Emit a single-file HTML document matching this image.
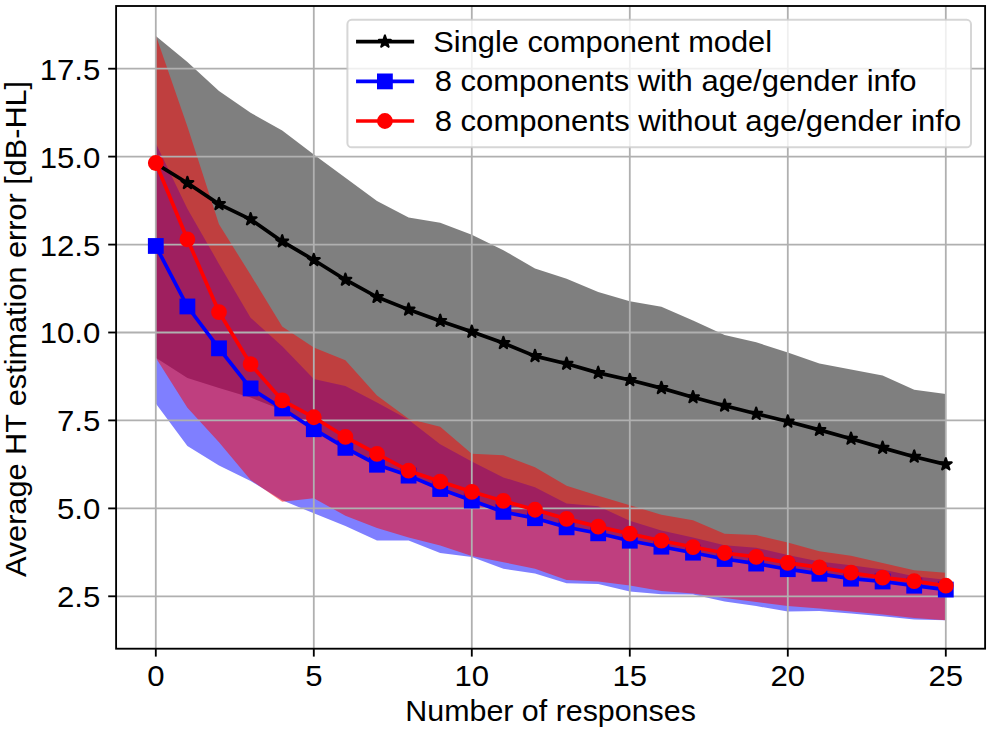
<!DOCTYPE html>
<html><head><meta charset="utf-8"><title>chart</title>
<style>
html,body{margin:0;padding:0;background:#fff;}
body{width:992px;height:732px;overflow:hidden;}
svg{display:block;}
text{font-family:"Liberation Sans",sans-serif;font-size:29.4px;fill:#000;}
</style></head><body>
<svg width="992" height="732" viewBox="0 0 992 732">
<rect x="0" y="0" width="992" height="732" fill="#fff"/>
<polygon points="155.8,36.0 187.4,62.0 219.0,90.9 250.6,112.7 282.2,130.6 313.8,154.5 345.4,177.8 377.0,201.0 408.6,217.5 440.2,222.8 471.8,234.7 503.4,250.2 535.0,268.5 566.6,278.7 598.2,292.1 629.8,301.2 661.4,306.8 693.0,320.5 724.6,335.0 756.2,342.3 787.8,352.5 819.4,363.4 851.0,369.4 882.6,375.4 914.2,389.8 945.8,394.0 945.8,589.6 914.2,585.7 882.6,581.5 851.0,578.7 819.4,573.8 787.8,569.2 756.2,563.6 724.6,559.0 693.0,552.7 661.4,546.7 629.8,540.7 598.2,533.3 566.6,527.3 535.0,518.2 503.4,511.9 471.8,500.6 440.2,489.0 408.6,475.6 377.0,464.7 345.4,447.9 313.8,429.2 282.2,409.9 250.6,397.6 219.0,388.1 187.4,377.9 155.8,357.8" fill="#000" fill-opacity="0.5"/>
<polygon points="155.8,143.3 187.4,208.7 219.0,263.9 250.6,317.7 282.2,346.2 313.8,378.9 345.4,386.0 377.0,402.5 408.6,419.7 440.2,444.3 471.8,461.6 503.4,477.4 535.0,487.2 566.6,503.4 598.2,506.2 629.8,520.7 661.4,530.5 693.0,537.5 724.6,545.3 756.2,547.7 787.8,555.1 819.4,561.5 851.0,565.3 882.6,569.5 914.2,576.2 945.8,579.7 945.8,620.2 914.2,619.5 882.6,616.3 851.0,613.5 819.4,611.0 787.8,611.4 756.2,606.1 724.6,601.6 693.0,594.5 661.4,594.2 629.8,591.4 598.2,584.0 566.6,583.3 535.0,573.4 503.4,568.8 471.8,556.9 440.2,553.0 408.6,540.4 377.0,540.4 345.4,525.9 313.8,513.3 282.2,500.3 250.6,480.9 219.0,465.4 187.4,446.1 155.8,403.5" fill="#00f" fill-opacity="0.5"/>
<polygon points="155.8,35.3 187.4,126.4 219.0,224.2 250.6,274.8 282.2,326.5 313.8,347.6 345.4,360.3 377.0,395.5 408.6,418.7 440.2,426.8 471.8,453.8 503.4,455.2 535.0,467.2 566.6,485.8 598.2,495.7 629.8,505.2 661.4,514.7 693.0,520.3 724.6,533.7 756.2,535.1 787.8,542.5 819.4,551.3 851.0,555.8 882.6,562.9 914.2,570.2 945.8,572.7 945.8,620.2 914.2,618.1 882.6,614.6 851.0,611.4 819.4,608.6 787.8,606.1 756.2,601.9 724.6,598.0 693.0,593.5 661.4,591.0 629.8,585.4 598.2,581.5 566.6,580.1 535.0,568.8 503.4,562.2 471.8,556.0 440.2,545.6 408.6,537.5 377.0,528.0 345.4,515.7 313.8,498.2 282.2,501.7 250.6,479.9 219.0,442.2 187.4,407.8 155.8,357.8" fill="#f00" fill-opacity="0.5"/>
<line x1="155.8" y1="6.0" x2="155.8" y2="648.7" stroke="#b0b0b0" stroke-width="1.8"/>
<line x1="313.8" y1="6.0" x2="313.8" y2="648.7" stroke="#b0b0b0" stroke-width="1.8"/>
<line x1="471.8" y1="6.0" x2="471.8" y2="648.7" stroke="#b0b0b0" stroke-width="1.8"/>
<line x1="629.8" y1="6.0" x2="629.8" y2="648.7" stroke="#b0b0b0" stroke-width="1.8"/>
<line x1="787.8" y1="6.0" x2="787.8" y2="648.7" stroke="#b0b0b0" stroke-width="1.8"/>
<line x1="945.8" y1="6.0" x2="945.8" y2="648.7" stroke="#b0b0b0" stroke-width="1.8"/>
<line x1="116.1" y1="596.3" x2="985.1" y2="596.3" stroke="#b0b0b0" stroke-width="1.8"/>
<line x1="116.1" y1="508.4" x2="985.1" y2="508.4" stroke="#b0b0b0" stroke-width="1.8"/>
<line x1="116.1" y1="420.4" x2="985.1" y2="420.4" stroke="#b0b0b0" stroke-width="1.8"/>
<line x1="116.1" y1="332.5" x2="985.1" y2="332.5" stroke="#b0b0b0" stroke-width="1.8"/>
<line x1="116.1" y1="244.6" x2="985.1" y2="244.6" stroke="#b0b0b0" stroke-width="1.8"/>
<line x1="116.1" y1="156.6" x2="985.1" y2="156.6" stroke="#b0b0b0" stroke-width="1.8"/>
<line x1="116.1" y1="68.7" x2="985.1" y2="68.7" stroke="#b0b0b0" stroke-width="1.8"/>
<polyline points="155.8,163.7 187.4,183.0 219.0,204.1 250.6,219.3 282.2,241.4 313.8,260.0 345.4,279.7 377.0,297.0 408.6,309.6 440.2,320.9 471.8,331.8 503.4,343.1 535.0,356.1 566.6,363.8 598.2,372.9 629.8,380.0 661.4,388.1 693.0,397.2 724.6,405.7 756.2,413.7 787.8,421.5 819.4,429.9 851.0,438.7 882.6,447.9 914.2,456.7 945.8,464.4" fill="none" stroke="#000" stroke-width="3.7" stroke-linejoin="round" stroke-linecap="square"/>
<path d="M155.80,157.48 L154.41,161.77 L149.90,161.77 L153.55,164.42 L152.16,168.70 L155.80,166.05 L159.44,168.70 L158.05,164.42 L161.70,161.77 L157.19,161.77 Z" fill="#000" stroke="#000" stroke-width="2.2" stroke-linejoin="round"/>
<path d="M187.40,176.83 L186.01,181.11 L181.50,181.11 L185.15,183.76 L183.76,188.04 L187.40,185.40 L191.04,188.04 L189.65,183.76 L193.30,181.11 L188.79,181.11 Z" fill="#000" stroke="#000" stroke-width="2.2" stroke-linejoin="round"/>
<path d="M219.00,197.93 L217.61,202.21 L213.10,202.21 L216.75,204.86 L215.36,209.15 L219.00,206.50 L222.64,209.15 L221.25,204.86 L224.90,202.21 L220.39,202.21 Z" fill="#000" stroke="#000" stroke-width="2.2" stroke-linejoin="round"/>
<path d="M250.60,213.05 L249.21,217.34 L244.70,217.34 L248.35,219.98 L246.96,224.27 L250.60,221.62 L254.24,224.27 L252.85,219.98 L256.50,217.34 L251.99,217.34 Z" fill="#000" stroke="#000" stroke-width="2.2" stroke-linejoin="round"/>
<path d="M282.20,235.21 L280.81,239.49 L276.30,239.49 L279.95,242.14 L278.56,246.43 L282.20,243.78 L285.84,246.43 L284.45,242.14 L288.10,239.49 L283.59,239.49 Z" fill="#000" stroke="#000" stroke-width="2.2" stroke-linejoin="round"/>
<path d="M313.80,253.85 L312.41,258.13 L307.90,258.13 L311.55,260.78 L310.16,265.07 L313.80,262.42 L317.44,265.07 L316.05,260.78 L319.70,258.13 L315.19,258.13 Z" fill="#000" stroke="#000" stroke-width="2.2" stroke-linejoin="round"/>
<path d="M345.40,273.55 L344.01,277.83 L339.50,277.83 L343.15,280.48 L341.76,284.76 L345.40,282.11 L349.04,284.76 L347.65,280.48 L351.30,277.83 L346.79,277.83 Z" fill="#000" stroke="#000" stroke-width="2.2" stroke-linejoin="round"/>
<path d="M377.00,290.78 L375.61,295.06 L371.10,295.06 L374.75,297.71 L373.36,301.99 L377.00,299.35 L380.64,301.99 L379.25,297.71 L382.90,295.06 L378.39,295.06 Z" fill="#000" stroke="#000" stroke-width="2.2" stroke-linejoin="round"/>
<path d="M408.60,303.44 L407.21,307.72 L402.70,307.72 L406.35,310.37 L404.96,314.66 L408.60,312.01 L412.24,314.66 L410.85,310.37 L414.50,307.72 L409.99,307.72 Z" fill="#000" stroke="#000" stroke-width="2.2" stroke-linejoin="round"/>
<path d="M440.20,314.69 L438.81,318.98 L434.30,318.98 L437.95,321.63 L436.56,325.91 L440.20,323.26 L443.84,325.91 L442.45,321.63 L446.10,318.98 L441.59,318.98 Z" fill="#000" stroke="#000" stroke-width="2.2" stroke-linejoin="round"/>
<path d="M471.80,325.60 L470.41,329.88 L465.90,329.88 L469.55,332.53 L468.16,336.81 L471.80,334.16 L475.44,336.81 L474.05,332.53 L477.70,329.88 L473.19,329.88 Z" fill="#000" stroke="#000" stroke-width="2.2" stroke-linejoin="round"/>
<path d="M503.40,336.85 L502.01,341.14 L497.50,341.14 L501.15,343.78 L499.76,348.07 L503.40,345.42 L507.04,348.07 L505.65,343.78 L509.30,341.14 L504.79,341.14 Z" fill="#000" stroke="#000" stroke-width="2.2" stroke-linejoin="round"/>
<path d="M535.00,349.86 L533.61,354.15 L529.10,354.15 L532.75,356.80 L531.36,361.08 L535.00,358.43 L538.64,361.08 L537.25,356.80 L540.90,354.15 L536.39,354.15 Z" fill="#000" stroke="#000" stroke-width="2.2" stroke-linejoin="round"/>
<path d="M566.60,357.60 L565.21,361.89 L560.70,361.89 L564.35,364.53 L562.96,368.82 L566.60,366.17 L570.24,368.82 L568.85,364.53 L572.50,361.89 L567.99,361.89 Z" fill="#000" stroke="#000" stroke-width="2.2" stroke-linejoin="round"/>
<path d="M598.20,366.75 L596.81,371.03 L592.30,371.03 L595.95,373.68 L594.56,377.96 L598.20,375.31 L601.84,377.96 L600.45,373.68 L604.10,371.03 L599.59,371.03 Z" fill="#000" stroke="#000" stroke-width="2.2" stroke-linejoin="round"/>
<path d="M629.80,373.78 L628.41,378.06 L623.90,378.06 L627.55,380.71 L626.16,385.00 L629.80,382.35 L633.44,385.00 L632.05,380.71 L635.70,378.06 L631.19,378.06 Z" fill="#000" stroke="#000" stroke-width="2.2" stroke-linejoin="round"/>
<path d="M661.40,381.87 L660.01,386.15 L655.50,386.15 L659.15,388.80 L657.76,393.08 L661.40,390.44 L665.04,393.08 L663.65,388.80 L667.30,386.15 L662.79,386.15 Z" fill="#000" stroke="#000" stroke-width="2.2" stroke-linejoin="round"/>
<path d="M693.00,391.01 L691.61,395.30 L687.10,395.30 L690.75,397.94 L689.36,402.23 L693.00,399.58 L696.64,402.23 L695.25,397.94 L698.90,395.30 L694.39,395.30 Z" fill="#000" stroke="#000" stroke-width="2.2" stroke-linejoin="round"/>
<path d="M724.60,399.45 L723.21,403.74 L718.70,403.74 L722.35,406.39 L720.96,410.67 L724.60,408.02 L728.24,410.67 L726.85,406.39 L730.50,403.74 L725.99,403.74 Z" fill="#000" stroke="#000" stroke-width="2.2" stroke-linejoin="round"/>
<path d="M756.20,407.54 L754.81,411.83 L750.30,411.83 L753.95,414.47 L752.56,418.76 L756.20,416.11 L759.84,418.76 L758.45,414.47 L762.10,411.83 L757.59,411.83 Z" fill="#000" stroke="#000" stroke-width="2.2" stroke-linejoin="round"/>
<path d="M787.80,415.28 L786.41,419.56 L781.90,419.56 L785.55,422.21 L784.16,426.50 L787.80,423.85 L791.44,426.50 L790.05,422.21 L793.70,419.56 L789.19,419.56 Z" fill="#000" stroke="#000" stroke-width="2.2" stroke-linejoin="round"/>
<path d="M819.40,423.72 L818.01,428.00 L813.50,428.00 L817.15,430.65 L815.76,434.94 L819.40,432.29 L823.04,434.94 L821.65,430.65 L825.30,428.00 L820.79,428.00 Z" fill="#000" stroke="#000" stroke-width="2.2" stroke-linejoin="round"/>
<path d="M851.00,432.51 L849.61,436.80 L845.10,436.80 L848.75,439.45 L847.36,443.73 L851.00,441.08 L854.64,443.73 L853.25,439.45 L856.90,436.80 L852.39,436.80 Z" fill="#000" stroke="#000" stroke-width="2.2" stroke-linejoin="round"/>
<path d="M882.60,441.66 L881.21,445.94 L876.70,445.94 L880.35,448.59 L878.96,452.87 L882.60,450.23 L886.24,452.87 L884.85,448.59 L888.50,445.94 L883.99,445.94 Z" fill="#000" stroke="#000" stroke-width="2.2" stroke-linejoin="round"/>
<path d="M914.20,450.45 L912.81,454.73 L908.30,454.73 L911.95,457.38 L910.56,461.67 L914.20,459.02 L917.84,461.67 L916.45,457.38 L920.10,454.73 L915.59,454.73 Z" fill="#000" stroke="#000" stroke-width="2.2" stroke-linejoin="round"/>
<path d="M945.80,458.19 L944.41,462.47 L939.90,462.47 L943.55,465.12 L942.16,469.40 L945.80,466.76 L949.44,469.40 L948.05,465.12 L951.70,462.47 L947.19,462.47 Z" fill="#000" stroke="#000" stroke-width="2.2" stroke-linejoin="round"/>
<polyline points="155.8,246.0 187.4,306.5 219.0,348.3 250.6,388.4 282.2,408.5 313.8,429.2 345.4,447.9 377.0,464.7 408.6,475.6 440.2,489.0 471.8,500.6 503.4,511.9 535.0,518.2 566.6,527.3 598.2,533.3 629.8,540.7 661.4,546.7 693.0,552.7 724.6,559.0 756.2,563.6 787.8,569.2 819.4,573.8 851.0,578.7 882.6,581.5 914.2,585.7 945.8,589.6" fill="none" stroke="#00f" stroke-width="3.7" stroke-linejoin="round" stroke-linecap="square"/>
<rect x="149.00" y="239.18" width="13.6" height="13.6" fill="#00f" stroke="#00f" stroke-width="2.2"/>
<rect x="180.60" y="299.67" width="13.6" height="13.6" fill="#00f" stroke="#00f" stroke-width="2.2"/>
<rect x="212.20" y="341.53" width="13.6" height="13.6" fill="#00f" stroke="#00f" stroke-width="2.2"/>
<rect x="243.80" y="381.62" width="13.6" height="13.6" fill="#00f" stroke="#00f" stroke-width="2.2"/>
<rect x="275.40" y="401.67" width="13.6" height="13.6" fill="#00f" stroke="#00f" stroke-width="2.2"/>
<rect x="307.00" y="422.42" width="13.6" height="13.6" fill="#00f" stroke="#00f" stroke-width="2.2"/>
<rect x="338.60" y="441.06" width="13.6" height="13.6" fill="#00f" stroke="#00f" stroke-width="2.2"/>
<rect x="370.20" y="457.94" width="13.6" height="13.6" fill="#00f" stroke="#00f" stroke-width="2.2"/>
<rect x="401.80" y="468.84" width="13.6" height="13.6" fill="#00f" stroke="#00f" stroke-width="2.2"/>
<rect x="433.40" y="482.21" width="13.6" height="13.6" fill="#00f" stroke="#00f" stroke-width="2.2"/>
<rect x="465.00" y="493.81" width="13.6" height="13.6" fill="#00f" stroke="#00f" stroke-width="2.2"/>
<rect x="496.60" y="505.07" width="13.6" height="13.6" fill="#00f" stroke="#00f" stroke-width="2.2"/>
<rect x="528.20" y="511.40" width="13.6" height="13.6" fill="#00f" stroke="#00f" stroke-width="2.2"/>
<rect x="559.80" y="520.54" width="13.6" height="13.6" fill="#00f" stroke="#00f" stroke-width="2.2"/>
<rect x="591.40" y="526.52" width="13.6" height="13.6" fill="#00f" stroke="#00f" stroke-width="2.2"/>
<rect x="623.00" y="533.91" width="13.6" height="13.6" fill="#00f" stroke="#00f" stroke-width="2.2"/>
<rect x="654.60" y="539.89" width="13.6" height="13.6" fill="#00f" stroke="#00f" stroke-width="2.2"/>
<rect x="686.20" y="545.86" width="13.6" height="13.6" fill="#00f" stroke="#00f" stroke-width="2.2"/>
<rect x="717.80" y="552.19" width="13.6" height="13.6" fill="#00f" stroke="#00f" stroke-width="2.2"/>
<rect x="749.40" y="556.77" width="13.6" height="13.6" fill="#00f" stroke="#00f" stroke-width="2.2"/>
<rect x="781.00" y="562.39" width="13.6" height="13.6" fill="#00f" stroke="#00f" stroke-width="2.2"/>
<rect x="812.60" y="566.97" width="13.6" height="13.6" fill="#00f" stroke="#00f" stroke-width="2.2"/>
<rect x="844.20" y="571.89" width="13.6" height="13.6" fill="#00f" stroke="#00f" stroke-width="2.2"/>
<rect x="875.80" y="574.70" width="13.6" height="13.6" fill="#00f" stroke="#00f" stroke-width="2.2"/>
<rect x="907.40" y="578.92" width="13.6" height="13.6" fill="#00f" stroke="#00f" stroke-width="2.2"/>
<rect x="939.00" y="582.79" width="13.6" height="13.6" fill="#00f" stroke="#00f" stroke-width="2.2"/>
<polyline points="155.8,163.0 187.4,239.3 219.0,312.1 250.6,364.2 282.2,400.4 313.8,417.3 345.4,437.0 377.0,453.8 408.6,470.7 440.2,481.6 471.8,491.8 503.4,501.0 535.0,509.8 566.6,518.9 598.2,526.6 629.8,533.7 661.4,540.7 693.0,547.0 724.6,553.0 756.2,556.9 787.8,562.9 819.4,567.4 851.0,572.7 882.6,577.6 914.2,581.2 945.8,585.7" fill="none" stroke="#f00" stroke-width="3.7" stroke-linejoin="round" stroke-linecap="square"/>
<circle cx="155.80" cy="162.98" r="6.8" fill="#f00" stroke="#f00" stroke-width="2.2"/>
<circle cx="187.40" cy="239.30" r="6.8" fill="#f00" stroke="#f00" stroke-width="2.2"/>
<circle cx="219.00" cy="312.10" r="6.8" fill="#f00" stroke="#f00" stroke-width="2.2"/>
<circle cx="250.60" cy="364.15" r="6.8" fill="#f00" stroke="#f00" stroke-width="2.2"/>
<circle cx="282.20" cy="400.38" r="6.8" fill="#f00" stroke="#f00" stroke-width="2.2"/>
<circle cx="313.80" cy="417.26" r="6.8" fill="#f00" stroke="#f00" stroke-width="2.2"/>
<circle cx="345.40" cy="436.95" r="6.8" fill="#f00" stroke="#f00" stroke-width="2.2"/>
<circle cx="377.00" cy="453.84" r="6.8" fill="#f00" stroke="#f00" stroke-width="2.2"/>
<circle cx="408.60" cy="470.72" r="6.8" fill="#f00" stroke="#f00" stroke-width="2.2"/>
<circle cx="440.20" cy="481.62" r="6.8" fill="#f00" stroke="#f00" stroke-width="2.2"/>
<circle cx="471.80" cy="491.82" r="6.8" fill="#f00" stroke="#f00" stroke-width="2.2"/>
<circle cx="503.40" cy="500.96" r="6.8" fill="#f00" stroke="#f00" stroke-width="2.2"/>
<circle cx="535.00" cy="509.76" r="6.8" fill="#f00" stroke="#f00" stroke-width="2.2"/>
<circle cx="566.60" cy="518.90" r="6.8" fill="#f00" stroke="#f00" stroke-width="2.2"/>
<circle cx="598.20" cy="526.64" r="6.8" fill="#f00" stroke="#f00" stroke-width="2.2"/>
<circle cx="629.80" cy="533.67" r="6.8" fill="#f00" stroke="#f00" stroke-width="2.2"/>
<circle cx="661.40" cy="540.71" r="6.8" fill="#f00" stroke="#f00" stroke-width="2.2"/>
<circle cx="693.00" cy="547.04" r="6.8" fill="#f00" stroke="#f00" stroke-width="2.2"/>
<circle cx="724.60" cy="553.02" r="6.8" fill="#f00" stroke="#f00" stroke-width="2.2"/>
<circle cx="756.20" cy="556.88" r="6.8" fill="#f00" stroke="#f00" stroke-width="2.2"/>
<circle cx="787.80" cy="562.86" r="6.8" fill="#f00" stroke="#f00" stroke-width="2.2"/>
<circle cx="819.40" cy="567.44" r="6.8" fill="#f00" stroke="#f00" stroke-width="2.2"/>
<circle cx="851.00" cy="572.71" r="6.8" fill="#f00" stroke="#f00" stroke-width="2.2"/>
<circle cx="882.60" cy="577.63" r="6.8" fill="#f00" stroke="#f00" stroke-width="2.2"/>
<circle cx="914.20" cy="581.15" r="6.8" fill="#f00" stroke="#f00" stroke-width="2.2"/>
<circle cx="945.80" cy="585.72" r="6.8" fill="#f00" stroke="#f00" stroke-width="2.2"/>
<rect x="116.1" y="6.0" width="869.0" height="642.7" fill="none" stroke="#000" stroke-width="1.85" stroke-linejoin="miter"/>
<line x1="155.8" y1="648.7" x2="155.8" y2="656.6" stroke="#000" stroke-width="1.85"/>
<line x1="313.8" y1="648.7" x2="313.8" y2="656.6" stroke="#000" stroke-width="1.85"/>
<line x1="471.8" y1="648.7" x2="471.8" y2="656.6" stroke="#000" stroke-width="1.85"/>
<line x1="629.8" y1="648.7" x2="629.8" y2="656.6" stroke="#000" stroke-width="1.85"/>
<line x1="787.8" y1="648.7" x2="787.8" y2="656.6" stroke="#000" stroke-width="1.85"/>
<line x1="945.8" y1="648.7" x2="945.8" y2="656.6" stroke="#000" stroke-width="1.85"/>
<line x1="108.2" y1="596.3" x2="116.1" y2="596.3" stroke="#000" stroke-width="1.85"/>
<line x1="108.2" y1="508.4" x2="116.1" y2="508.4" stroke="#000" stroke-width="1.85"/>
<line x1="108.2" y1="420.4" x2="116.1" y2="420.4" stroke="#000" stroke-width="1.85"/>
<line x1="108.2" y1="332.5" x2="116.1" y2="332.5" stroke="#000" stroke-width="1.85"/>
<line x1="108.2" y1="244.6" x2="116.1" y2="244.6" stroke="#000" stroke-width="1.85"/>
<line x1="108.2" y1="156.6" x2="116.1" y2="156.6" stroke="#000" stroke-width="1.85"/>
<line x1="108.2" y1="68.7" x2="116.1" y2="68.7" stroke="#000" stroke-width="1.85"/>
<rect x="347.4" y="19.8" width="623.6" height="127.5" rx="4.4" ry="4.4" fill="#fff" fill-opacity="0.8" stroke="#ccc" stroke-opacity="0.8" stroke-width="2"/>
<line x1="357.9" y1="41.7" x2="412.3" y2="41.7" stroke="#000" stroke-width="3.7" stroke-linecap="square"/>
<path d="M384.90,35.50 L383.51,39.78 L379.00,39.78 L382.65,42.43 L381.26,46.72 L384.90,44.07 L388.54,46.72 L387.15,42.43 L390.80,39.78 L386.29,39.78 Z" fill="#000" stroke="#000" stroke-width="2.2" stroke-linejoin="round"/>
<text x="433.3" y="51.7" textLength="338.7" lengthAdjust="spacingAndGlyphs">Single component model</text>
<line x1="357.9" y1="81.4" x2="412.3" y2="81.4" stroke="#00f" stroke-width="3.7" stroke-linecap="square"/>
<rect x="378.10" y="74.60" width="13.6" height="13.6" fill="#00f" stroke="#00f" stroke-width="2.2"/>
<text x="434.7" y="91.4" textLength="481.9" lengthAdjust="spacingAndGlyphs">8 components with age/gender info</text>
<line x1="357.9" y1="121.0" x2="412.3" y2="121.0" stroke="#f00" stroke-width="3.7" stroke-linecap="square"/>
<circle cx="384.90" cy="121.00" r="6.8" fill="#f00" stroke="#f00" stroke-width="2.2"/>
<text x="434.7" y="131.3" textLength="526.5" lengthAdjust="spacingAndGlyphs">8 components without age/gender info</text>
<text x="155.8" y="685.6" text-anchor="middle" textLength="17.3" lengthAdjust="spacingAndGlyphs">0</text>
<text x="313.8" y="685.6" text-anchor="middle" textLength="17.3" lengthAdjust="spacingAndGlyphs">5</text>
<text x="471.8" y="685.6" text-anchor="middle" textLength="34.6" lengthAdjust="spacingAndGlyphs">10</text>
<text x="629.8" y="685.6" text-anchor="middle" textLength="34.6" lengthAdjust="spacingAndGlyphs">15</text>
<text x="787.8" y="685.6" text-anchor="middle" textLength="34.6" lengthAdjust="spacingAndGlyphs">20</text>
<text x="945.8" y="685.6" text-anchor="middle" textLength="34.6" lengthAdjust="spacingAndGlyphs">25</text>
<text x="100.3" y="607.2" text-anchor="end" textLength="43.3" lengthAdjust="spacingAndGlyphs">2.5</text>
<text x="100.3" y="519.2" text-anchor="end" textLength="43.3" lengthAdjust="spacingAndGlyphs">5.0</text>
<text x="100.3" y="431.3" text-anchor="end" textLength="43.3" lengthAdjust="spacingAndGlyphs">7.5</text>
<text x="100.3" y="343.4" text-anchor="end" textLength="60.6" lengthAdjust="spacingAndGlyphs">10.0</text>
<text x="100.3" y="255.5" text-anchor="end" textLength="60.6" lengthAdjust="spacingAndGlyphs">12.5</text>
<text x="100.3" y="167.5" text-anchor="end" textLength="60.6" lengthAdjust="spacingAndGlyphs">15.0</text>
<text x="100.3" y="79.6" text-anchor="end" textLength="60.6" lengthAdjust="spacingAndGlyphs">17.5</text>
<text x="550.6" y="720.6" text-anchor="middle" textLength="290.5" lengthAdjust="spacingAndGlyphs">Number of responses</text>
<text transform="translate(26,329.0) rotate(-90)" x="0" y="0" text-anchor="middle" textLength="496.2" lengthAdjust="spacingAndGlyphs">Average HT estimation error [dB-HL]</text>
</svg>
</body></html>
